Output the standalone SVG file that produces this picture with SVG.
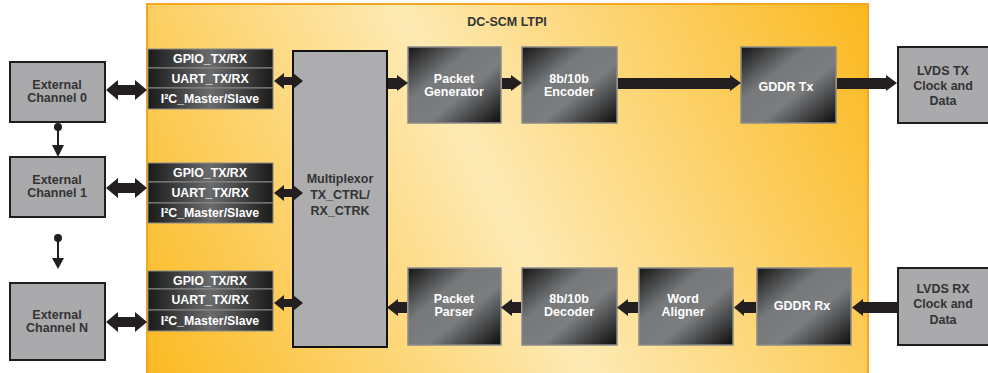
<svg xmlns="http://www.w3.org/2000/svg" width="988" height="373" viewBox="0 0 988 373">
<defs>
<linearGradient id="bg" gradientUnits="userSpaceOnUse" x1="150" y1="373" x2="868" y2="0">
<stop offset="0" stop-color="#FBBA22"/>
<stop offset="0.48" stop-color="#FEEAB4"/>
<stop offset="1" stop-color="#FBB81E"/>
</linearGradient>
<linearGradient id="blk" x1="0" y1="0" x2="1" y2="1">
<stop offset="0" stop-color="#151515"/>
<stop offset="0.35" stop-color="#76787a"/>
<stop offset="0.6" stop-color="#7b7d7f"/>
<stop offset="1" stop-color="#0c0c0c"/>
</linearGradient>
<linearGradient id="bar" x1="0" y1="0" x2="1" y2="0">
<stop offset="0" stop-color="#1a1a1a"/>
<stop offset="0.5" stop-color="#6a6b6d"/>
<stop offset="1" stop-color="#1a1a1a"/>
</linearGradient>
<style>
.ext{fill:#AAAAAC;stroke:#1e1e1e;stroke-width:2}
.blk{fill:url(#blk);stroke:#8a8a8a;stroke-width:1.5}
.bar{fill:url(#bar);stroke:#8a8a8a;stroke-width:1}
.arr{fill:#231f20}
.t1{font-family:"Liberation Sans",Arial,sans-serif;font-weight:bold;font-size:12.5px;fill:#333;text-anchor:middle}
.tw{font-family:"Liberation Sans",Arial,sans-serif;font-weight:bold;font-size:12.5px;fill:#fff;text-anchor:middle}
.ts{font-family:"Liberation Sans",Arial,sans-serif;font-weight:bold;font-size:12.3px;fill:#fff;text-anchor:middle}
</style>
</defs>
<rect width="988" height="373" fill="#fff"/>
<g id="ltpi">
<rect x="147" y="4" width="721" height="375" fill="url(#bg)" stroke="#F5A623" stroke-width="2"/>
<text class="t1" x="507" y="26">DC-SCM LTPI</text>
</g>
<g id="ext0"><rect class="ext" x="10" y="62" width="95" height="60"/><text class="t1" x="57" y="89">External</text><text class="t1" x="57" y="102">Channel 0</text></g>
<g id="ext1"><rect class="ext" x="10" y="157" width="95" height="60"/><text class="t1" x="57" y="184">External</text><text class="t1" x="57" y="197">Channel 1</text></g>
<g id="extN"><rect class="ext" x="10" y="283" width="95" height="77"/><text class="t1" x="57" y="319">External</text><text class="t1" x="57" y="332">Channel N</text></g>
<g id="if0">
<rect class="bar" x="148" y="49" width="125" height="19"/><text class="ts" x="210" y="63">GPIO_TX/RX</text>
<rect class="bar" x="148" y="68" width="125" height="20"/><text class="ts" x="210" y="83">UART_TX/RX</text>
<rect class="bar" x="148" y="88" width="125" height="21"/><text class="ts" x="210" y="103">I²C_Master/Slave</text>
</g>
<g id="if1">
<rect class="bar" x="148" y="163" width="125" height="19"/><text class="ts" x="210" y="177">GPIO_TX/RX</text>
<rect class="bar" x="148" y="182" width="125" height="21"/><text class="ts" x="210" y="197">UART_TX/RX</text>
<rect class="bar" x="148" y="203" width="125" height="20"/><text class="ts" x="210" y="217">I²C_Master/Slave</text>
</g>
<g id="ifN">
<rect class="bar" x="148" y="271" width="125" height="18"/><text class="ts" x="210" y="285">GPIO_TX/RX</text>
<rect class="bar" x="148" y="289" width="125" height="21"/><text class="ts" x="210" y="304">UART_TX/RX</text>
<rect class="bar" x="148" y="310" width="125" height="21"/><text class="ts" x="210" y="325">I²C_Master/Slave</text>
</g>
<g id="mux"><rect x="293" y="51" width="94" height="296" fill="#ADADAF" stroke="#111" stroke-width="2"/>
<text class="t1" x="340" y="183">Multiplexor</text><text class="t1" x="340" y="199">TX_CTRL/</text><text class="t1" x="340" y="215">RX_CTRK</text></g>
<g id="pgen"><rect class="blk" x="408" y="47" width="93" height="76"/><text class="tw" x="454" y="83">Packet</text><text class="tw" x="454" y="96">Generator</text></g>
<g id="enc"><rect class="blk" x="522" y="47" width="95" height="76"/><text class="tw" x="569" y="83">8b/10b</text><text class="tw" x="569" y="96">Encoder</text></g>
<g id="gddrtx"><rect class="blk" x="741" y="47" width="95" height="76"/><text class="tw" x="786" y="91">GDDR Tx</text></g>
<g id="lvdstx"><rect class="ext" x="898" y="47" width="92" height="76"/><text class="t1" x="943" y="75">LVDS TX</text><text class="t1" x="943" y="90">Clock and</text><text class="t1" x="943" y="105">Data</text></g>
<g id="pparse"><rect class="blk" x="408" y="268" width="93" height="77"/><text class="tw" x="454" y="303">Packet</text><text class="tw" x="454" y="316">Parser</text></g>
<g id="dec"><rect class="blk" x="522" y="268" width="95" height="77"/><text class="tw" x="569" y="303">8b/10b</text><text class="tw" x="569" y="316">Decoder</text></g>
<g id="walign"><rect class="blk" x="639" y="268" width="94" height="77"/><text class="tw" x="683" y="303">Word</text><text class="tw" x="683" y="316">Aligner</text></g>
<g id="gddrrx"><rect class="blk" x="757" y="268" width="94" height="77"/><text class="tw" x="802" y="310">GDDR Rx</text></g>
<g id="lvdsrx"><rect class="ext" x="898" y="268" width="92" height="77"/><text class="t1" x="943" y="293">LVDS RX</text><text class="t1" x="943" y="308">Clock and</text><text class="t1" x="943" y="324">Data</text></g>
<g id="connectors">
<polygon class="arr" points="106,90 118,80 118,85 135,85 135,80 147,90 135,100 135,95 118,95 118,100"/>
<polygon class="arr" points="106,188 118,178 118,183 135,183 135,178 147,188 135,198 135,193 118,193 118,198"/>
<polygon class="arr" points="106,322 118,312 118,317 135,317 135,312 147,322 135,332 135,327 118,327 118,332"/>
<polygon class="arr" points="274,81 284,73 284,77 293,77 293,73 303,81 293,89 293,85 284,85 284,89"/>
<polygon class="arr" points="274,193 284,185 284,189 293,189 293,185 303,193 293,201 293,197 284,197 284,201"/>
<polygon class="arr" points="274,303 284,295 284,299 293,299 293,295 303,303 293,311 293,307 284,307 284,311"/>
<polygon class="arr" points="388,78 397,78 397,75 408,83 397,91 397,89 388,89"/>
<polygon class="arr" points="502,78 511,78 511,75 522,83 511,91 511,89 502,89"/>
<polygon class="arr" points="618,78 730,78 730,75 741,83 730,91 730,89 618,89"/>
<polygon class="arr" points="837,78 886,78 886,75 897,83 886,91 886,89 837,89"/>
<polygon class="arr" points="897,302 863,302 863,299 852,307.5 863,316 863,313 897,313"/>
<polygon class="arr" points="756,302 744,302 744,299 734,307.5 744,316 744,313 756,313"/>
<polygon class="arr" points="638,302 628,302 628,299 617,307.5 628,316 628,313 638,313"/>
<polygon class="arr" points="521,302 512,302 512,299 501,307.5 512,316 512,313 521,313"/>
<polygon class="arr" points="407,302 398,302 398,299 387,307.5 398,316 398,313 407,313"/>
<circle class="arr" cx="58" cy="127" r="4"/>
<line x1="58" y1="127" x2="58" y2="146" stroke="#231f20" stroke-width="2"/>
<polygon class="arr" points="52,145 64,145 58,157"/>
<circle class="arr" cx="58" cy="238" r="4"/>
<line x1="58" y1="238" x2="58" y2="259" stroke="#231f20" stroke-width="2"/>
<polygon class="arr" points="52,258 64,258 58,269"/>
</g>
</svg>
